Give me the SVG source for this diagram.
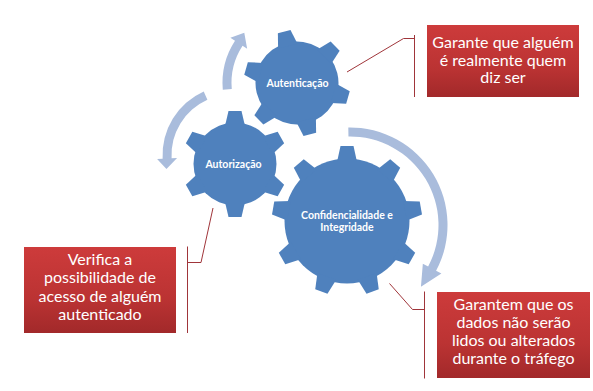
<svg xmlns="http://www.w3.org/2000/svg" xmlns:xlink="http://www.w3.org/1999/xlink" width="593" height="391" viewBox="0 0 593 391">
  <style>
    .gear { fill: #4f81bd; }
    .gear-label { font-family: Lato, "Liberation Sans", sans-serif; font-weight: bold; font-size: 10.5px; fill: #ffffff; text-anchor: middle; }
    .cycle { fill: #a9bcdc; }
    .leader { fill: none; stroke: #a0353a; stroke-width: 1; }
    .note { fill: url(#noteFill); }
    .note-text { font-family: Lato, "Liberation Sans", sans-serif; font-size: 16px; fill: #ffffff; text-anchor: middle; }
  </style>
  <defs>
    <linearGradient id="noteFill" x1="0" y1="0" x2="0" y2="1">
      <stop offset="0" stop-color="#cd3b3b"/>
      <stop offset="0.6" stop-color="#bb3333"/>
      <stop offset="1" stop-color="#a2292a"/>
    </linearGradient>
    <!-- tooth profiles, pointing up from the gear centre -->
    <polygon id="tooth-small" points="-10,-38 -6.5,-53 6.5,-53 10,-38"/>
    <polygon id="tooth-large" points="-10,-59 -6.5,-75 6.5,-75 10,-59"/>
  </defs>

  <rect width="593" height="391" fill="#ffffff"/>

  <!-- six-tooth gear, upper -->
  <g id="gear-autenticacao">
    <g class="gear" transform="translate(297,83) rotate(-14)">
      <circle r="41.5"/>
      <use xlink:href="#tooth-small"/>
      <use xlink:href="#tooth-small" transform="rotate(60)"/>
      <use xlink:href="#tooth-small" transform="rotate(120)"/>
      <use xlink:href="#tooth-small" transform="rotate(180)"/>
      <use xlink:href="#tooth-small" transform="rotate(240)"/>
      <use xlink:href="#tooth-small" transform="rotate(300)"/>
    </g>
    <text class="gear-label" x="297.5" y="86.5">Autenticação</text>
  </g>

  <!-- six-tooth gear, left -->
  <g id="gear-autorizacao">
    <g class="gear" transform="translate(235,164)">
      <circle r="41.5"/>
      <use xlink:href="#tooth-small"/>
      <use xlink:href="#tooth-small" transform="rotate(60)"/>
      <use xlink:href="#tooth-small" transform="rotate(120)"/>
      <use xlink:href="#tooth-small" transform="rotate(180)"/>
      <use xlink:href="#tooth-small" transform="rotate(240)"/>
      <use xlink:href="#tooth-small" transform="rotate(300)"/>
    </g>
    <text class="gear-label" x="233.5" y="167.5">Autorização</text>
  </g>

  <!-- nine-tooth gear, large -->
  <g id="gear-confidencialidade">
    <g class="gear" transform="translate(347,221)">
      <circle r="62.5"/>
      <use xlink:href="#tooth-large"/>
      <use xlink:href="#tooth-large" transform="rotate(40)"/>
      <use xlink:href="#tooth-large" transform="rotate(80)"/>
      <use xlink:href="#tooth-large" transform="rotate(120)"/>
      <use xlink:href="#tooth-large" transform="rotate(160)"/>
      <use xlink:href="#tooth-large" transform="rotate(200)"/>
      <use xlink:href="#tooth-large" transform="rotate(240)"/>
      <use xlink:href="#tooth-large" transform="rotate(280)"/>
      <use xlink:href="#tooth-large" transform="rotate(320)"/>
    </g>
    <text class="gear-label" x="347" y="218.5">Confidencialidade e</text>
    <text class="gear-label" x="347" y="231">Integridade</text>
  </g>

  <!-- curved rotation arrows around the gears -->
  <g id="cycle-arrows" class="cycle">
    <path d="M 222.79,89.76 A 77.5 77.5 0 0 1 235.00,40.79 L 230.39,37.80 L 244.27,32.82 L 247.16,48.69 L 242.55,45.69 A 68.5 68.5 0 0 0 231.76,88.97 Z"/>
    <path d="M 203.73,91.51 A 69.5 69.5 0 0 0 162.60,158.64 L 157.10,158.93 L 166.46,168.93 L 177.08,157.88 L 171.58,158.17 A 60.5 60.5 0 0 1 207.39,99.73 Z"/>
    <path d="M 348.30,127.51 A 97.5 97.5 0 0 1 436.09,270.78 L 441.38,273.59 L 420.94,286.67 L 422.84,263.73 L 428.14,266.55 A 88.5 88.5 0 0 0 348.46,136.51 Z"/>
  </g>

  <!-- callout leader lines -->
  <g id="connectors" class="leader">
    <polyline points="347,72 403.5,38.5 414.5,38.5"/>
    <line x1="414.5" y1="35" x2="414.5" y2="97"/>
    <polyline points="213,208 201,262.5 187.5,262.5"/>
    <line x1="187.5" y1="246.5" x2="187.5" y2="333"/>
    <polyline points="389.5,283.5 412.5,309.5 424.5,309.5"/>
    <line x1="424.5" y1="291.5" x2="424.5" y2="378.5"/>
  </g>

  <!-- callout notes -->
  <g id="note-autenticacao">
    <rect class="note" x="427" y="25" width="152" height="72"/>
    <text class="note-text" x="503" y="47.5">Garante que alguém</text>
    <text class="note-text" x="503" y="65.5">é realmente quem</text>
    <text class="note-text" x="503" y="83">diz ser</text>
  </g>

  <g id="note-autorizacao">
    <rect class="note" x="24" y="247" width="152" height="86"/>
    <text class="note-text" x="100" y="265">Verifica a</text>
    <text class="note-text" x="100" y="283">possibilidade de</text>
    <text class="note-text" x="100" y="301.5">acesso de alguém</text>
    <text class="note-text" x="100" y="319.5">autenticado</text>
  </g>

  <g id="note-confidencialidade">
    <rect class="note" x="437" y="292" width="153" height="86"/>
    <text class="note-text" x="513.5" y="309.5">Garantem que os</text>
    <text class="note-text" x="513.5" y="327.5">dados não serão</text>
    <text class="note-text" x="513.5" y="345.5">lidos ou alterados</text>
    <text class="note-text" x="513.5" y="363.5">durante o tráfego</text>
  </g>
</svg>
